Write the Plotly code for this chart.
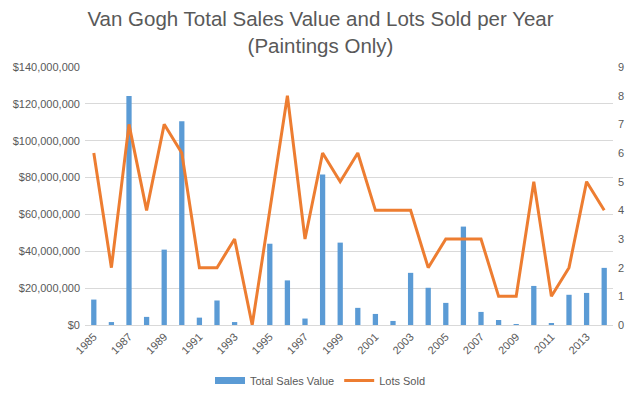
import plotly.graph_objects as go

years = list(range(1985, 2015))
sales_value = [13.8e6, 1.6e6, 124.3e6, 4.4e6, 40.9e6, 110.6e6, 4.0e6, 13.3e6, 1.6e6, 0,
               44.1e6, 24.2e6, 3.5e6, 81.7e6, 44.7e6, 9.3e6, 6.0e6, 2.2e6, 28.3e6, 20.2e6,
               12.0e6, 53.4e6, 7.1e6, 2.7e6, 0.5e6, 21.2e6, 1.1e6, 16.4e6, 17.4e6, 31.0e6]
lots_sold = [6, 2, 7, 4, 7, 6, 2, 2, 3, 0,
             4, 8, 3, 6, 5, 6, 4, 4, 4, 2,
             3, 3, 3, 1, 1, 5, 1, 2, 5, 4]
tick_years = [str(y) for y in range(1985, 2015, 2)]
left_ticks = list(range(0, 140000001, 20000000))
left_labels = ["$0"] + ["${:,}".format(v) for v in left_ticks[1:]]

cats = [str(y) for y in years]
font = "Liberation Sans"
grey = "#595959"
blue = "#5B9BD5"
orange = "#ED7D31"

fig = go.Figure()
fig.add_trace(go.Bar(x=cats, y=sales_value, name="Total Sales Value", showlegend=False,
                     marker=dict(color=blue, line=dict(width=0)), yaxis="y"))
# legend-only entry with a wide rectangular swatch
fig.add_trace(go.Scatter(x=[None], y=[None], name="Total Sales Value", mode="lines",
                         line=dict(color=blue, width=7), yaxis="y"))
fig.add_trace(go.Scatter(x=cats, y=lots_sold, name="Lots Sold", mode="lines",
                         line=dict(color=orange, width=3), yaxis="y2"))

fig.update_layout(
    width=625, height=385,
    margin=dict(l=77, r=20, t=59, b=68, autoexpand=False),
    paper_bgcolor="white", plot_bgcolor="white",
    bargap=0.7,
    title=dict(text="Van Gogh Total Sales Value and Lots Sold per Year<br>(Paintings Only)",
               x=0.5, xanchor="center", y=0.952, yanchor="top",
               font=dict(family=font, size=20.5, color=grey)),
    font=dict(family=font, size=11, color=grey),
    xaxis=dict(type="category", tickmode="array", tickvals=tick_years, ticktext=tick_years,
               tickangle=-45, showgrid=False, showline=True, linecolor="#D9D9D9",
               ticks="", automargin=False, tickfont=dict(size=11, color=grey)),
    yaxis=dict(range=[0, 140000000], tickmode="array", tickvals=left_ticks, ticktext=left_labels,
               showgrid=True, gridcolor="#D9D9D9", zeroline=False, ticks="", automargin=False,
               ticklabelstandoff=4, tickfont=dict(size=11, color=grey)),
    yaxis2=dict(range=[0, 9], dtick=1, overlaying="y", side="right", showgrid=False,
                zeroline=False, ticks="", automargin=False, ticklabelstandoff=4,
                tickfont=dict(size=11, color=grey)),
    legend=dict(orientation="h", xref="container", x=0.5, xanchor="center",
                y=-0.159, yanchor="top",
                font=dict(size=11, color=grey), itemwidth=30),
)

fig.write_html("out.html")
